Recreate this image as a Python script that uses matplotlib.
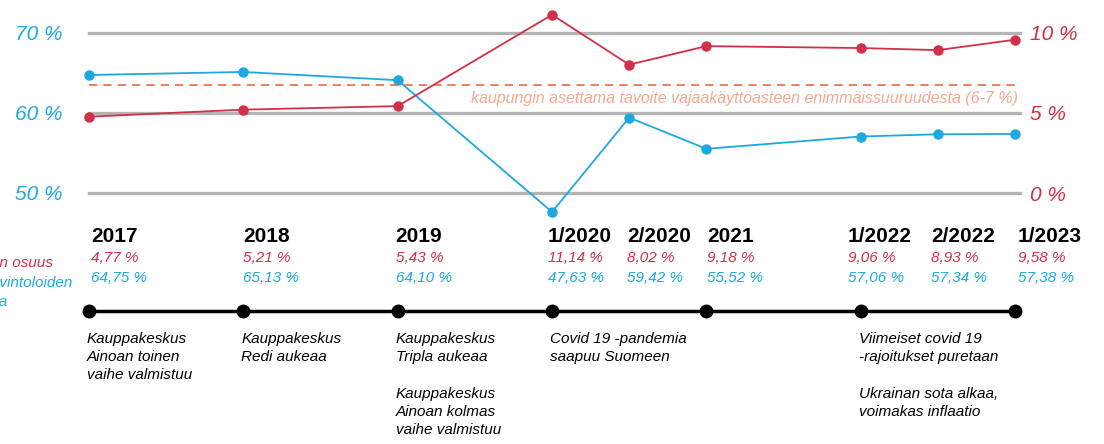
import matplotlib.pyplot as plt
import matplotlib.transforms as mtransforms
from matplotlib import font_manager as fm

# pick an Arial-like family that really has an italic face
italic_fams = {f.name for f in fm.fontManager.ttflist if f.style in ('italic', 'oblique')}
fam = next((f for f in ['Liberation Sans', 'Arimo', 'Roboto', 'Noto Sans', 'Open Sans', 'Lato', 'Inter']
            if f in italic_fams), 'DejaVu Sans')
plt.rcParams['font.family'] = [fam, 'DejaVu Sans']

# data
periods = ["2017", "2018", "2019", "1/2020", "2/2020", "2021", "1/2022", "2/2022", "1/2023"]
period_pos = [0, 2, 4, 6, 7, 8, 10, 11, 12]   # half-year steps
vacancy = [4.77, 5.21, 5.43, 11.14, 8.02, 9.18, 9.06, 8.93, 9.58]          # red, right axis
cafe_share = [64.75, 65.13, 64.10, 47.63, 59.42, 55.52, 57.06, 57.34, 57.38]  # blue, left axis
target = 6.75
left_ticks = [50, 60, 70]
right_ticks = [0, 5, 10]

events = {
    0: "Kauppakeskus\nAinoan toinen\nvaihe valmistuu",
    2: "Kauppakeskus\nRedi aukeaa",
    4: "Kauppakeskus\nTripla aukeaa\n\nKauppakeskus\nAinoan kolmas\nvaihe valmistuu",
    6: "Covid 19 -pandemia\nsaapuu Suomeen",
    10: "Viimeiset covid 19\n-rajoitukset puretaan\n\nUkrainan sota alkaa,\nvoimakas inflaatio",
}
timeline_dots = [0, 2, 4, 6, 8, 10, 12]

# colours
BLUE = '#1DA9DF'
RED = '#D22F48'
GRID = '#B4B4B4'
DASH = '#EC6A43'
DASH_TXT = '#F6A98F'

W, H = 1104, 444
def fy(py):
    return 1 - py / H

fig = plt.figure(figsize=(W / 100, H / 100), dpi=100)
ax = fig.add_axes([89 / W, 251 / H, 931 / W, 160 / H])
ax.set_xlim(0, 931 / 77.17)
ax.set_ylim(50, 70)
ax2 = ax.twinx()
ax2.set_ylim(0, 10)

for a in (ax, ax2):
    for s in a.spines.values():
        s.set_visible(False)
    a.set_xticks([])
    a.patch.set_visible(False)

for v in left_ticks:
    ax.axhline(v, color=GRID, lw=2.4, zorder=1, clip_on=False)

ax.set_yticks(left_ticks)
ax.set_yticklabels([f"{v} %" for v in left_ticks], color=BLUE, style='italic', fontsize=15)
ax.tick_params(axis='y', length=0, pad=19)
ax2.set_yticks(right_ticks)
ax2.set_yticklabels([f"{v} %" for v in right_ticks], color=RED, style='italic', fontsize=15)
ax2.tick_params(axis='y', length=0, pad=7)

ax2.axhline(target, color=DASH, lw=1.2, ls=(0, (5, 3.6)), zorder=2)
ax2.text(931 / 77.17 - 0.03, 5.93, "kaupungin asettama tavoite vajaakäyttöasteen enimmäissuuruudesta (6-7 %)",
         color=DASH_TXT, style='italic', fontsize=11.5, ha='right', va='center')

ax.plot(period_pos, cafe_share, color=BLUE, lw=1.3, marker='o', ms=6.5, clip_on=False, zorder=3)
ax2.plot(period_pos, vacancy, color=RED, lw=1.3, marker='o', ms=6.5, clip_on=False, zorder=3)

# labels under the chart
blend = mtransforms.blended_transform_factory(ax.transData, fig.transFigure)
label_shift = [2, 0, -2, -4, -2, 1, -13, -7, 3]
for p, name, r, b, dx in zip(period_pos, periods, vacancy, cafe_share, label_shift):
    tr = mtransforms.offset_copy(blend, fig=fig, x=dx, y=0, units='dots')
    fig.text(p, fy(242), name, transform=tr, fontsize=15, fontweight='bold', ha='left', va='baseline')
    fig.text(p, fy(262), f"{r:.2f} %".replace('.', ','), transform=tr, fontsize=11,
             style='italic', color=RED, ha='left', va='baseline')
    fig.text(p, fy(282), f"{b:.2f} %".replace('.', ','), transform=tr, fontsize=11,
             style='italic', color=BLUE, ha='left', va='baseline')

# legend text that runs off the left edge, as in the original
fig.text(53 / W, fy(267), "Vajaakäyttöasteen osuus", color=RED, style='italic', fontsize=11, ha='right', va='baseline')
fig.text(72 / W, fy(287), "kahviloiden ja ravintoloiden", color=BLUE, style='italic', fontsize=11, ha='right', va='baseline')
fig.text(7 / W, fy(306), "osuus tiloista", color=BLUE, style='italic', fontsize=11, ha='right', va='baseline')

# timeline
ax.plot([0, 12], [fy(311)] * 2, transform=blend, color='black', lw=2.5, clip_on=False)
ax.plot(timeline_dots, [fy(311)] * len(timeline_dots), transform=blend, ls='none',
        marker='o', ms=9, color='black', clip_on=False)

for p, txt in events.items():
    tr = mtransforms.offset_copy(blend, fig=fig, x=-2, y=0, units='dots')
    fig.text(p, fy(332), txt, transform=tr, fontsize=11, style='italic', ha='left', va='top',
             linespacing=1.38)

fig.savefig("out.png", dpi=100)
